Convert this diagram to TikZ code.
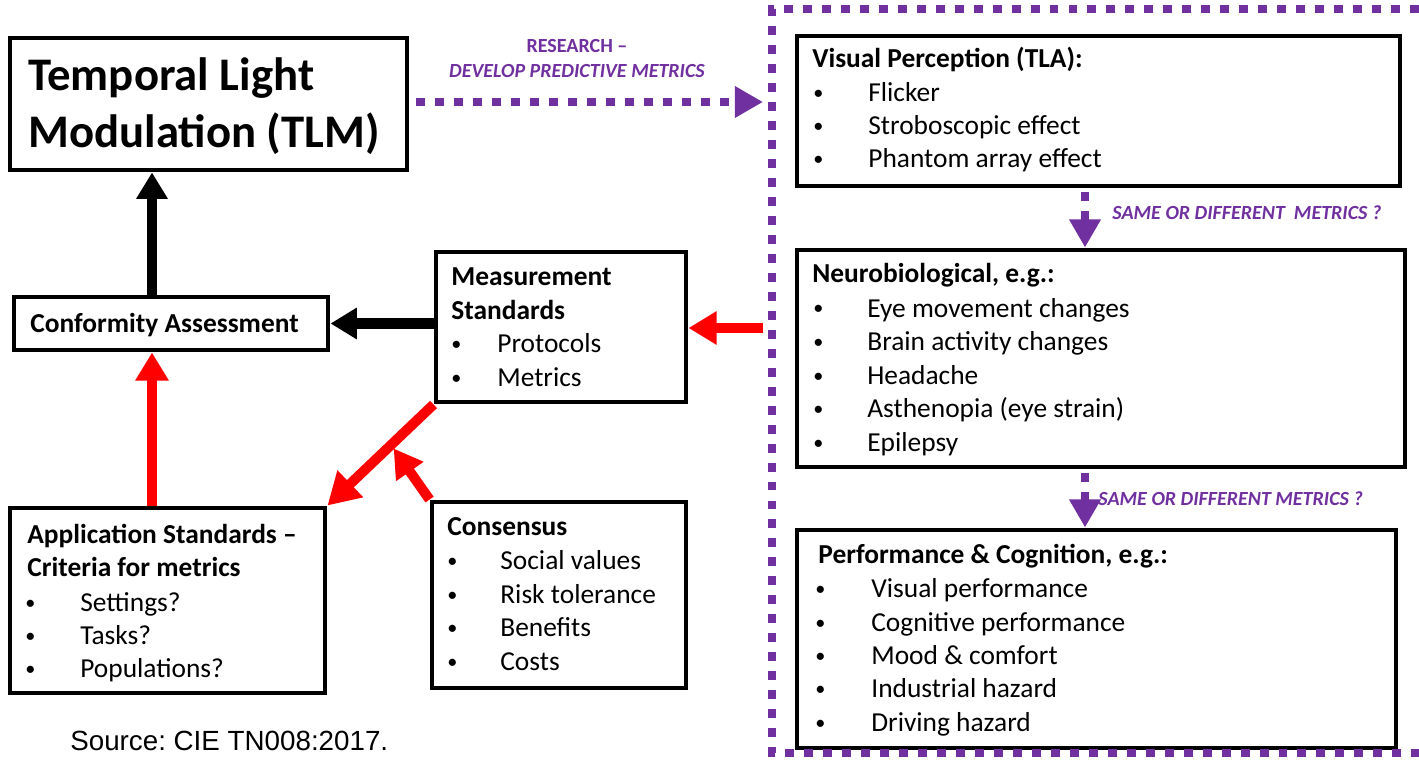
\documentclass[tikz,border=0pt]{standalone}
\usepackage{fontspec}
\setmainfont{Carlito}
\newfontfamily\srcfont{Liberation Sans}
\usetikzlibrary{arrows.meta,fit,calc}
\definecolor{tlmpurple}{RGB}{112,48,160}
\definecolor{tlmred}{RGB}{255,0,0}

\begin{document}
\frenchspacing
\begin{tikzpicture}[x=0.02cm, y=-0.02cm,
  box/.style={draw=black, line width=2.8pt, inner sep=0pt},
  txt/.style={anchor=base west, inner sep=0pt, font=\fontsize{15.6}{19}\selectfont},
  bul/.style={anchor=base west, inner sep=0pt, font=\fontsize{11.5}{14}\selectfont},
  hd/.style={txt, font=\fontsize{15.6}{19}\selectfont\bfseries},
  lbl/.style={inner sep=0pt, text=tlmpurple, font=\fontsize{11.4}{14}\selectfont\bfseries\itshape},
  blkarrow/.style={draw=black, line width=5.7pt, -{Triangle[length=15pt,width=17pt]}},
  redarrow/.style={draw=tlmred, line width=5.7pt, -{Triangle[length=16pt,width=18pt]}},
  purparrow/.style={draw=tlmpurple, line width=5.1pt, dash pattern=on 5.1pt off 5.7pt, -{Triangle[length=16pt,width=17pt]}}]

 \useasboundingbox (0,0) rectangle (1419,763);

 % left boxes
 \node[box, fit={(10,38) (407,170)}] (tlm) {};
 \node[box, fit={(14,297) (328,350)}] (conf) {};
 \node[box, fit={(436,252) (686,402)}] (meas) {};
 \node[box, fit={(10,508) (325,693)}] (app) {};
 \node[box, fit={(432,502) (686,688)}] (cons) {};

 \node[txt, font=\fontsize{26.6}{32}\selectfont\bfseries] (tlm1) at (28,91) {Temporal Light};
 \node[txt, font=\fontsize{26.6}{32}\selectfont\bfseries] (tlm2) at (28,148) {Modulation (TLM)};
 \node[hd] (conft) at (30,333) {Conformity Assessment};

 \node[hd] (meas1) at (451,286) {Measurement};
 \node[hd] (meas2) at (451,319) {Standards};
 \foreach \i/\y/\t in {1/353/Protocols, 2/386/Metrics} {
   \node[bul] (measb\i) at (451,\y-2) {\textbullet};
   \node[txt] (meas\i t) at (497,\y) {\t};
 }

 \node[hd] (app1) at (27,543) {Application Standards --};
 \node[hd] (app2) at (27,576) {Criteria for metrics};
 \foreach \i/\y/\t in {1/611/Settings?, 2/644/Tasks?, 3/677/Populations?} {
   \node[bul] (appb\i) at (25,\y-2) {\textbullet};
   \node[txt] (app\i t) at (80,\y) {\t};
 }

 \node[hd] (cons1) at (447,535) {Consensus};
 \foreach \i/\y/\t in {1/569/Social values, 2/603/Risk tolerance, 3/636/Benefits, 4/670/Costs} {
   \node[bul] (consb\i) at (447,\y-2) {\textbullet};
   \node[txt] (cons\i t) at (500,\y) {\t};
 }

 % right boxes
 \node[box, fit={(797,36) (1400,186)}] (vis) {};
 \node[box, fit={(797,250) (1405,467)}] (neuro) {};
 \node[box, fit={(797,530) (1396,748)}] (perf) {};

 \node[hd] (vis1) at (812,68) {Visual Perception (TLA):};
 \foreach \i/\y/\t in {1/102/Flicker, 2/135/Stroboscopic effect, 3/168/Phantom array effect} {
   \node[bul] (visb\i) at (813,\y-2) {\textbullet};
   \node[txt] (vis\i t) at (868,\y) {\t};
 }

 \node[hd] (neuro1) at (812,283) {Neurobiological, e.g.:};
 \foreach \i/\y/\t in {1/317/Eye movement changes, 2/351/Brain activity changes, 3/384/Headache,
                       4/417/Asthenopia (eye strain), 5/451/Epilepsy} {
   \node[bul] (neurob\i) at (813,\y-2) {\textbullet};
   \node[txt] (neuro\i t) at (867,\y) {\t};
 }

 \node[hd] (perf1) at (818,563) {Performance \& Cognition, e.g.:};
 \foreach \i/\y/\t in {1/597/Visual performance, 2/631/Cognitive performance, 3/664/Mood \& comfort,
                       4/697/Industrial hazard, 5/731/Driving hazard} {
   \node[bul] (perfb\i) at (815,\y-2) {\textbullet};
   \node[txt] (perf\i t) at (871,\y) {\t};
 }

 % purple frame
 \draw[tlmpurple, line width=5.1pt, dash pattern=on 5.1pt off 5.7pt] (1419,9) -- (772,9) -- (772,753) -- (1419,753);
 \coordinate (frm) at (763,328);
 \coordinate (rsx) at (763,0);
 \coordinate (upx) at (152,0);
 \coordinate (dnx) at (1085,0);

 % labels
 \node[lbl, font=\fontsize{11.4}{14}\selectfont\bfseries, anchor=base] (rs1) at (577,53) {RESEARCH --};
 \node[lbl, anchor=base] (rs2) at (577,78) {DEVELOP PREDICTIVE METRICS};
 \node[lbl, anchor=base west] (sm1) at (1112,220) {SAME OR DIFFERENT\ \ METRICS ?};
 \node[lbl, anchor=base west] (sm2) at (1098,505) {SAME OR DIFFERENT METRICS ?};

 \node[anchor=base west, inner sep=0pt, font=\srcfont\fontsize{15.8}{19}\selectfont] (src) at (70,750) {Source: CIE TN008:2017.};

 % lines
 \draw[blkarrow] (upx |- conf.north) -- (upx |- tlm.south);
 \draw[blkarrow] (meas.west |- conf.east) -- (conf.east);
 \draw[redarrow] (upx |- app.north) -- (upx |- conf.south);
 \draw[redarrow] (frm) -- (meas.east |- frm);
 \draw[redarrow, -{Triangle[length=18pt,width=20pt]}] (meas.south west) -- (app.north east);
 \draw[redarrow, shorten >=2.5pt] (cons.north west) -- ($(meas.south west)!0.4!(app.north east)$);

 \draw[purparrow, shorten <=4pt] (tlm.east |- 0,102) -- (rsx |- 0,102);
 \draw[purparrow, shorten <=2pt] (dnx |- vis.south) -- (dnx |- neuro.north);
 \draw[purparrow, shorten <=2pt] (dnx |- neuro.south) -- (dnx |- perf.north);

\end{tikzpicture}
\end{document}
